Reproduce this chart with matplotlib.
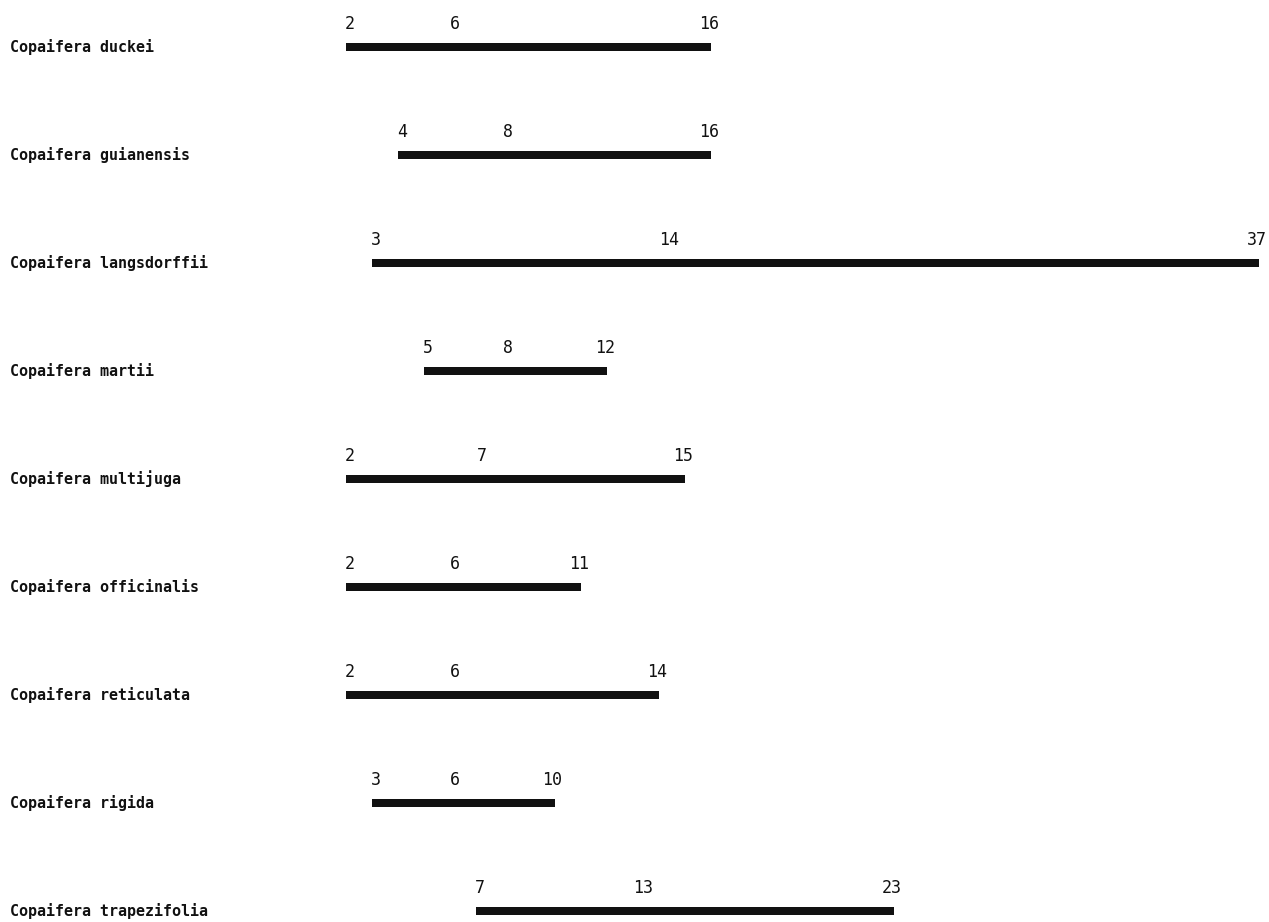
import numpy as np
import matplotlib.pyplot as plt
import matplotlib.transforms as mtransforms

# especies e amplitudes (min, valor intermediario, max)
especies = ["Copaifera duckei", "Copaifera guianensis", "Copaifera langsdorffii",
            "Copaifera martii", "Copaifera multijuga", "Copaifera officinalis",
            "Copaifera reticulata", "Copaifera rigida", "Copaifera trapezifolia"]
minimos = [2, 4, 3, 5, 2, 2, 2, 3, 7]
medios = [6, 8, 14, 8, 7, 6, 6, 6, 13]
maximos = [16, 16, 37, 12, 15, 11, 14, 10, 23]

W, H = 1269, 922
fig = plt.figure(figsize=(W / 100, H / 100), dpi=100)
ax = fig.add_axes([0, 0, 1, 1])
ax.axis('off')

# escala: valor 2 -> px 346, valor 37 -> px 1259
px_por_unid = (1259 - 346) / 35
ax.set_xlim(2 - 346 / px_por_unid, 37 + (W - 1259) / px_por_unid)
ax.set_ylim((H - 47) / 108, -47 / 108)

ys = np.arange(len(especies))
ax.barh(ys, np.array(maximos) - np.array(minimos), left=minimos,
        height=0.075, color='#111111')

fonte = 'DejaVu Sans Mono'
trans_nome = mtransforms.blended_transform_factory(fig.transFigure, ax.transData)
for y, nome in zip(ys, especies):
    ax.text(10 / W, y, nome, transform=trans_nome, ha='left', va='center',
            family=fonte, fontweight='bold', fontsize=10.8, color='#111111')

off = 0.13  # numeros acima da barra
for y, a, m, b in zip(ys, minimos, medios, maximos):
    ax.text(a - 0.05, y - off, str(a), ha='left', va='bottom', family=fonte,
            fontsize=12, color='#111111')
    ax.text(m, y - off, str(m), ha='left', va='bottom', family=fonte,
            fontsize=12, color='#111111')
    ax.text(b + 0.3, y - off, str(b), ha='right', va='bottom', family=fonte,
            fontsize=12, color='#111111')

fig.savefig('out.png', dpi=100, facecolor='white')
